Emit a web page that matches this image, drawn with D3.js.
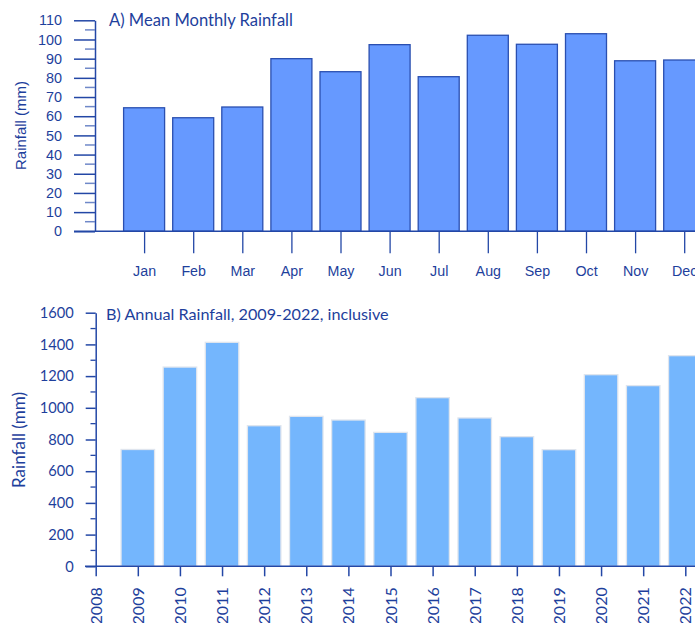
<!DOCTYPE html>
<html><head><meta charset="utf-8">
<script src="https://cdn.jsdelivr.net/npm/d3@7"></script>
<style>
html,body{margin:0;padding:0;background:#fff;overflow:hidden}
svg{display:block}
</style></head>
<body>
<svg id="c" width="695" height="623"></svg>
<script>
const months = ["Jan","Feb","Mar","Apr","May","Jun","Jul","Aug","Sep","Oct","Nov","Dec"];
const monthlyRain = [64.4, 59.2, 64.8, 90.0, 83.2, 97.3, 80.6, 102.2, 97.5, 103.0, 88.9, 89.3];
const monthTicksY = [0,10,20,30,40,50,60,70,80,90,100,110];

const years = [2009,2010,2011,2012,2013,2014,2015,2016,2017,2018,2019,2020,2021,2022];
const annualRain = [737, 1257, 1413, 887, 946, 923, 845, 1064, 936, 818, 736, 1209, 1140, 1329];
const yearTicksX = [2008,2009,2010,2011,2012,2013,2014,2015,2016,2017,2018,2019,2020,2021,2022];
const annualTicksY = [0,200,400,600,800,1000,1200,1400,1600];

const TXT = "#1e3f9c", AX = "#2347a6";
const ARIAL = "'Liberation Sans', Arial, sans-serif";
const CAL = "Lato, 'Open Sans', sans-serif";
const svg = d3.select("#c");

// scale a text's font size so that its width matches the reference width
function fit(sel, family, target) {
  sel.style("font-family", family).style("font-size", "16px");
  const w = sel.node().getComputedTextLength();
  const s = 16 * target / w;
  sel.style("font-size", s.toFixed(2) + "px");
  return s;
}
function fitAll(sel, family, refNode, target) {
  const s = fit(d3.select(refNode), family, target);
  sel.style("font-family", family).style("font-size", s.toFixed(2) + "px");
}

// ---------- Chart A ----------
const A = svg.append("g");
const xA = d3.scaleLinear().domain([0, 12]).range([95, 684.2]);
const yA = d3.scaleLinear().domain([0, 110]).range([231.3, 20.3]);
const bwA = 41;

A.selectAll("rect").data(monthlyRain).join("rect")
  .attr("x", (d,i) => xA(i+1) - bwA/2)
  .attr("y", d => yA(d))
  .attr("width", bwA)
  .attr("height", d => yA(0) - yA(d))
  .attr("fill", "#6699ff")
  .attr("stroke", "#2a4fb0").attr("stroke-width", 1.3);

const yAxA = d3.axisLeft(yA).tickValues(monthTicksY).tickSize(21).tickPadding(12).tickSizeOuter(0);
const gyA = A.append("g").attr("transform","translate(95,0)").call(yAxA);
gyA.select(".domain").attr("stroke", AX).attr("stroke-width",1.5);
gyA.selectAll(".tick line").attr("stroke", AX).attr("stroke-width",1.5);
gyA.selectAll(".tick text").attr("fill", TXT);
fitAll(gyA.selectAll(".tick text"), ARIAL, gyA.selectAll(".tick text").nodes().slice(-1)[0], 23);
const minorA = d3.range(5, 110, 10);
A.append("g").selectAll("line").data(minorA).join("line")
  .attr("x1", 85).attr("x2", 95).attr("y1", d => yA(d)).attr("y2", d => yA(d))
  .attr("stroke", "#6f88c8").attr("stroke-width",1.5);

const xAxA = d3.axisBottom(xA).tickValues(d3.range(1,13)).tickSize(22).tickPadding(13)
  .tickFormat(d => months[d-1]).tickSizeOuter(0);
const gxA = A.append("g").attr("transform",`translate(0,${yA(0)})`).call(xAxA);
gxA.select(".domain").attr("stroke","none");
gxA.selectAll(".tick line").attr("stroke", AX).attr("stroke-width",1.3);
gxA.selectAll(".tick text").attr("fill", TXT);
fitAll(gxA.selectAll(".tick text"), ARIAL, gxA.selectAll(".tick text").nodes()[0], 23);
A.append("line").attr("x1",74).attr("x2",695).attr("y1",yA(0)).attr("y2",yA(0))
  .attr("stroke", AX).attr("stroke-width",1.5);

const ylA = A.append("text").attr("transform","translate(26,125.5) rotate(-90)")
  .attr("text-anchor","middle").attr("fill",TXT).text("Rainfall (mm)");
fit(ylA, ARIAL, 89);
const tA = A.append("text").attr("x",109).attr("y",26).attr("fill",TXT).text("A) Mean Monthly Rainfall");
fit(tA, CAL, 184);

// ---------- Chart B ----------
const B = svg.append("g");
const xB = d3.scaleLinear().domain([2008, 2022]).range([95.7, 685.3]);
const yB = d3.scaleLinear().domain([0, 1600]).range([566.3, 312.7]);
const bwB = 33.5;

B.selectAll("rect").data(annualRain).join("rect")
  .attr("x", (d,i) => xB(years[i]) - bwB/2)
  .attr("y", d => yB(d))
  .attr("width", bwB)
  .attr("height", d => yB(0) - yB(d))
  .attr("fill", "#74b6fd")
  .attr("stroke", "#dfe5ee").attr("stroke-width", 1.3);

const yAxB = d3.axisLeft(yB).tickValues(annualTicksY).tickSize(10).tickPadding(12)
  .tickFormat(d3.format("d")).tickSizeOuter(0);
const gyB = B.append("g").attr("transform","translate(95.7,0)").call(yAxB);
gyB.select(".domain").attr("stroke", AX).attr("stroke-width",1.5);
gyB.selectAll(".tick line").attr("stroke", AX).attr("stroke-width",1.5);
gyB.selectAll(".tick text").attr("fill", TXT);
fitAll(gyB.selectAll(".tick text"), CAL, gyB.selectAll(".tick text").nodes().slice(-1)[0], 34);
const minorB = d3.range(100, 1600, 200);
B.append("g").selectAll("line").data(minorB).join("line")
  .attr("x1", 90.5).attr("x2", 95.7).attr("y1", d => yB(d)).attr("y2", d => yB(d))
  .attr("stroke", AX).attr("stroke-width",1.3);

const xAxB = d3.axisBottom(xB).tickValues(yearTicksX).tickSize(10).tickPadding(0)
  .tickFormat(d3.format("d")).tickSizeOuter(0);
const gxB = B.append("g").attr("transform",`translate(0,${yB(0)})`).call(xAxB);
gxB.select(".domain").attr("stroke","none");
gxB.selectAll(".tick line").attr("stroke", AX).attr("stroke-width",1.5);
gxB.selectAll(".tick text").attr("fill", TXT)
  .attr("transform","translate(0,21) rotate(-90)").attr("text-anchor","end")
  .attr("x",0).attr("y",0).attr("dy","0.35em");
gxB.selectAll(".tick text").style("font-family", CAL).style("font-size", "16px");
B.append("line").attr("x1",85).attr("x2",695).attr("y1",yB(0)).attr("y2",yB(0))
  .attr("stroke", AX).attr("stroke-width",1.5);

const ylB = B.append("text").attr("transform","translate(25,440) rotate(-90)")
  .attr("text-anchor","middle").attr("fill",TXT).text("Rainfall (mm)");
fit(ylB, CAL, 96);
const tB = B.append("text").attr("x",106).attr("y",320).attr("fill",TXT).text("B) Annual Rainfall, 2009-2022, inclusive");
fit(tB, CAL, 283);
</script>
</body></html>
